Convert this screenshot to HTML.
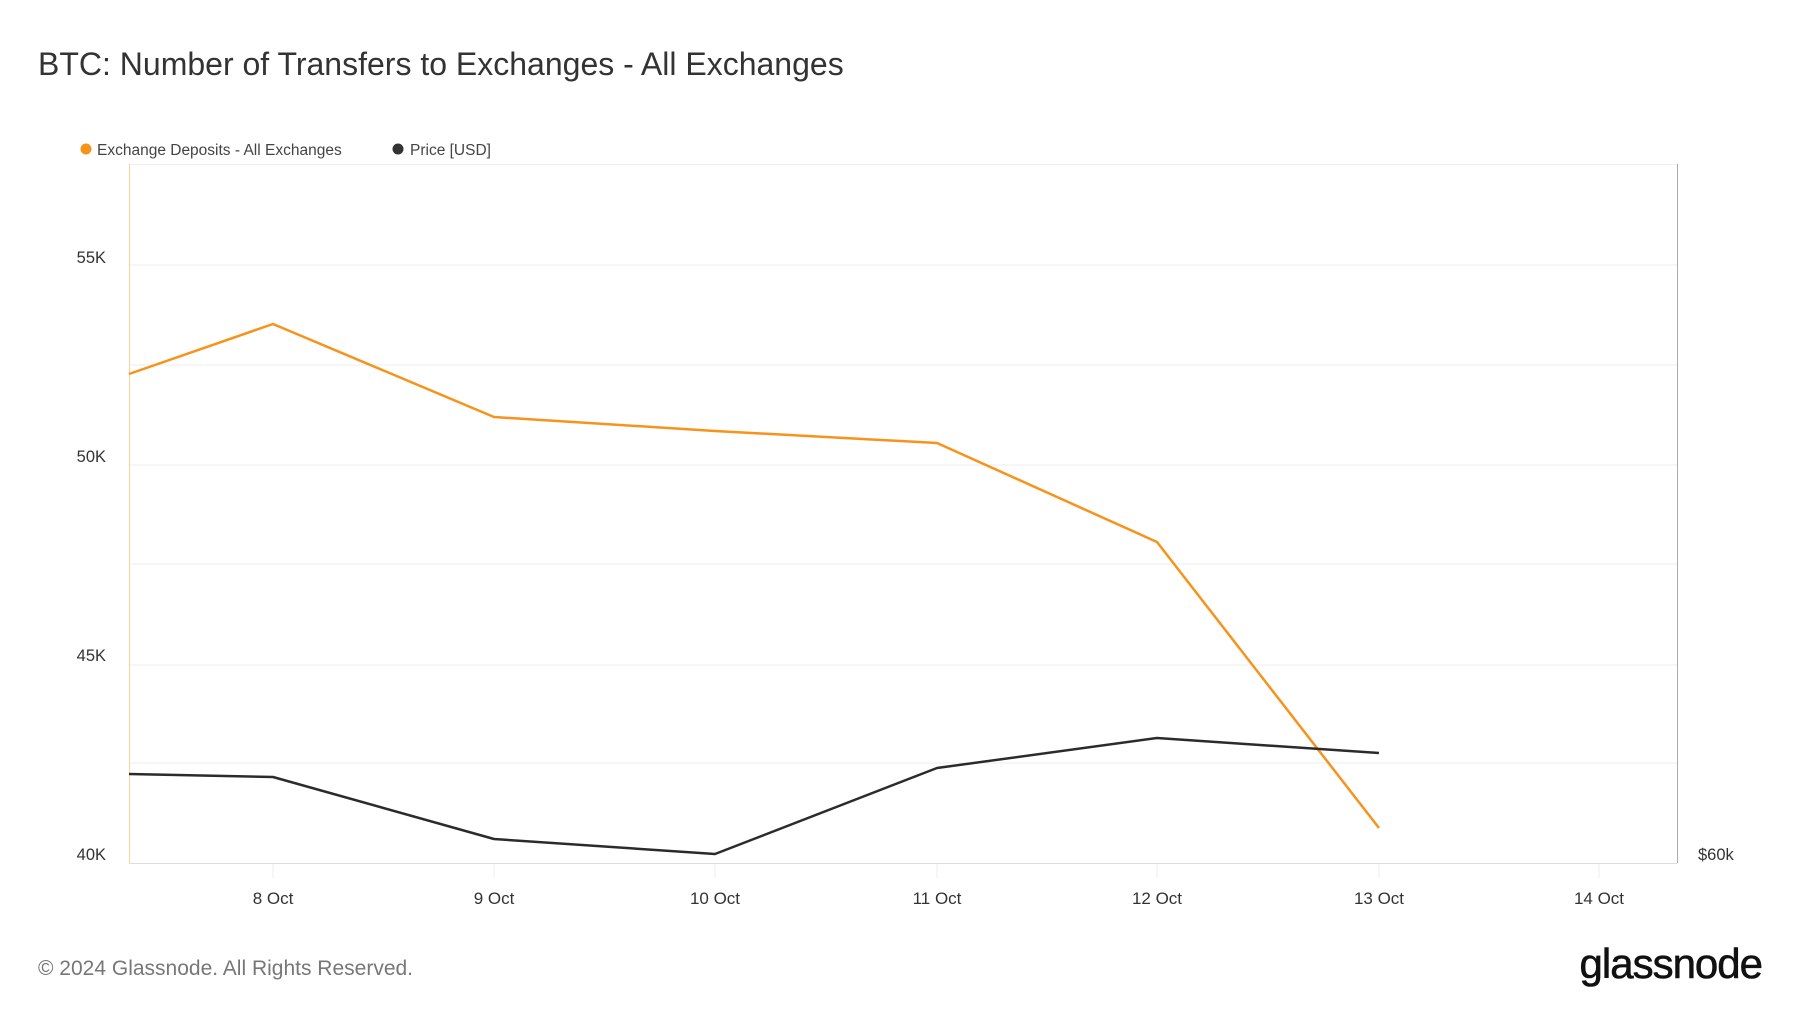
<!DOCTYPE html>
<html><head><meta charset="utf-8"><style>
body{margin:0;background:#fff;width:1800px;height:1013px;overflow:hidden;font-family:"Liberation Sans",sans-serif}
</style></head><body>
<svg width="1800" height="1013" xmlns="http://www.w3.org/2000/svg" font-family="Liberation Sans, sans-serif">
<text x="38" y="75" font-size="32" fill="#333">BTC: Number of Transfers to Exchanges - All Exchanges</text>
<circle cx="86" cy="149" r="5.5" fill="#f7931a"/>
<text x="97" y="155" font-size="15.5" fill="#444">Exchange Deposits - All Exchanges</text>
<circle cx="398" cy="149" r="5.5" fill="#333"/>
<text x="410" y="155" font-size="15.5" fill="#444">Price [USD]</text>
<g stroke="#eee" stroke-width="1">
<line x1="129" y1="164.5" x2="1677" y2="164.5"/>
<line x1="129" y1="265" x2="1677" y2="265"/>
<line x1="129" y1="365" x2="1677" y2="365"/>
<line x1="129" y1="465" x2="1677" y2="465"/>
<line x1="129" y1="564" x2="1677" y2="564"/>
<line x1="129" y1="665" x2="1677" y2="665"/>
<line x1="129" y1="763" x2="1677" y2="763"/>
<line x1="273" y1="863" x2="273" y2="878"/><line x1="494" y1="863" x2="494" y2="878"/><line x1="715" y1="863" x2="715" y2="878"/><line x1="937" y1="863" x2="937" y2="878"/><line x1="1157" y1="863" x2="1157" y2="878"/><line x1="1379" y1="863" x2="1379" y2="878"/><line x1="1599" y1="863" x2="1599" y2="878"/>
</g>
<line x1="129" y1="863.5" x2="1677" y2="863.5" stroke="#ddd"/>
<line x1="129.5" y1="164" x2="129.5" y2="863" stroke="#fbd39a"/>
<line x1="1677.5" y1="164" x2="1677.5" y2="863" stroke="#aaa"/>
<g font-size="16.5" fill="#333" text-anchor="end">
<text x="106" y="263">55K</text><text x="106" y="462">50K</text><text x="106" y="661">45K</text><text x="106" y="860">40K</text>
</g>
<text x="1698" y="860" font-size="16.5" fill="#333">$60k</text>
<g font-size="17" fill="#333" text-anchor="middle">
<text x="273" y="904">8 Oct</text><text x="494" y="904">9 Oct</text><text x="715" y="904">10 Oct</text><text x="937" y="904">11 Oct</text><text x="1157" y="904">12 Oct</text><text x="1379" y="904">13 Oct</text><text x="1599" y="904">14 Oct</text>
</g>
<polyline fill="none" stroke="#f7931a" stroke-width="2.5" stroke-linejoin="round" points="129,374 273,324 494,417 715,431 937,443 1157,542 1379,828"/>
<polyline fill="none" stroke="#2b2b2b" stroke-width="2.5" stroke-linejoin="round" points="129,774 273,777 494,839 715,854 937,768 1157,738 1379,753"/>
<text x="38" y="975" font-size="21" fill="#777">© 2024 Glassnode. All Rights Reserved.</text>
<text x="1762" y="978" font-size="42" fill="#111" text-anchor="end" stroke="#111" stroke-width="0.6" letter-spacing="-1">glassnode</text>
</svg>
</body></html>
